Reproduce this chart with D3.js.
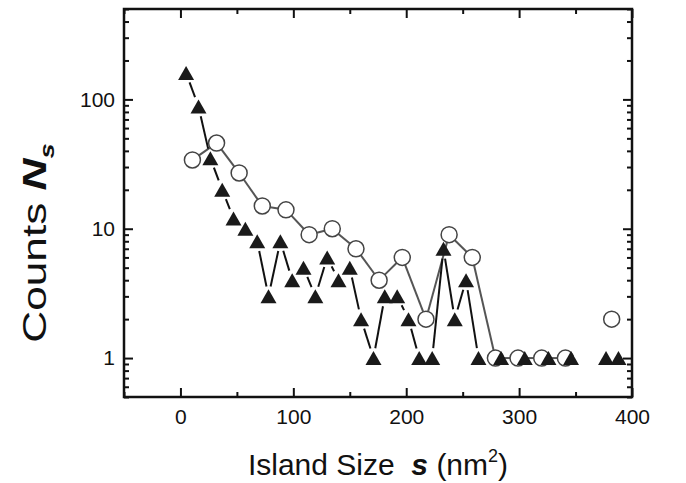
<!DOCTYPE html>
<html>
<head>
<meta charset="utf-8">
<script src="https://cdn.jsdelivr.net/npm/d3@7"></script>
<style>
    body { margin: 0; background: #fff; }
    text { font-family: "Liberation Sans", Arial, sans-serif; fill: #111; }
</style>
</head>
<body>
<div id="chart"></div>
<script>
// triangle series (filled, black line) - zero counts break the line
const triSize = [5, 16, 26.5, 37, 47, 57.5, 68, 78, 88.5, 99, 109, 119.5, 130, 140, 150, 160, 171, 181, 192, 202,
    211.5, 223, 233, 243, 253, 264, 274, 284, 295, 305, 315, 326, 336, 346, 356, 367, 377, 388];
const triCount = [160, 88, 35, 20, 12, 10, 8, 3, 8, 4, 5, 3, 6, 4, 5, 2, 1, 3, 3, 2,
    1, 1, 7, 2, 4, 1, 0, 1, 0, 1, 0, 1, 0, 1, 0, 0, 1, 1];

// circle series (open, grey line)
const circSize = [10.6, 32, 52, 72.5, 93.5, 114, 134.5, 155.5, 176, 196.5, 217.5, 238, 258.5, 279, 299, 320, 341, 362, 382];
const circCount = [34, 46, 27, 15, 14, 9, 10, 7, 4, 6, 2, 9, 6, 1, 1, 1, 1, 0, 2];

const xMajor = [0, 100, 200, 300, 400];
const xMinor = [-50, 50, 150, 250, 350];
const yMajor = [1, 10, 100];
const yMinor = [0.5, 0.6, 0.7, 0.8, 0.9, 2, 3, 4, 5, 6, 7, 8, 9, 20, 30, 40, 50, 60, 70, 80, 90, 200, 300, 400, 500];

const w = 686, h = 483;
const margin = { top: 9, right: 54, bottom: 86, left: 124 };

const svg = d3.select("#chart").append("svg")
    .attr("width", w)
    .attr("height", h);

// SCALES
const x = d3.scaleLinear().domain([-50, 400]).range([margin.left, w - margin.right]);
const y = d3.scaleLog().domain([0.5, 500]).range([h - margin.bottom, margin.top]);

const x0 = margin.left, x1 = w - margin.right, y0 = h - margin.bottom, y1 = margin.top;

// AXES (inward ticks, mirrored on top and right)
function addAxis(axisFn, pos, values, size, labels) {
    const g = svg.append("g")
        .attr("transform", pos)
        .call(axisFn.tickValues(values).tickSize(-size).tickPadding(labels ? 12 : 0)
            .tickFormat(labels ? d3.format("d") : ""));
    g.select(".domain").remove();
    g.selectAll("line").attr("stroke", "#111").attr("stroke-width", 2);
    g.selectAll("text").style("font-size", "21px").attr("fill", "#111");
    return g;
}

addAxis(d3.axisBottom(x), "translate(0," + y0 + ")", xMajor, 9, true);
addAxis(d3.axisBottom(x), "translate(0," + y0 + ")", xMinor, 5, false);
addAxis(d3.axisTop(x), "translate(0," + y1 + ")", xMajor, 9, false);
addAxis(d3.axisTop(x), "translate(0," + y1 + ")", xMinor, 5, false);
const yl = addAxis(d3.axisLeft(y), "translate(" + x0 + ",0)", yMajor, 9, true);
yl.selectAll("text").attr("x", -9);
addAxis(d3.axisLeft(y), "translate(" + x0 + ",0)", yMinor, 5, false);
addAxis(d3.axisRight(y), "translate(" + x1 + ",0)", yMajor, 9, false);
addAxis(d3.axisRight(y), "translate(" + x1 + ",0)", yMinor, 5, false);

svg.append("rect")
    .attr("x", x0).attr("y", y1)
    .attr("width", x1 - x0).attr("height", y0 - y1)
    .attr("fill", "none").attr("stroke", "#111").attr("stroke-width", 2.5);

// segments with gaps around the symbols, like Origin draws them
function segments(xs, ys, gap) {
    const out = [];
    for (let i = 0; i < xs.length - 1; i++) {
        if (ys[i] <= 0 || ys[i + 1] <= 0) continue;
        const ax = x(xs[i]), ay = y(ys[i]), bx = x(xs[i + 1]), by = y(ys[i + 1]);
        const len = Math.hypot(bx - ax, by - ay);
        if (len <= 2 * gap) continue;
        const ux = (bx - ax) / len, uy = (by - ay) / len;
        out.push([ax + ux * gap, ay + uy * gap, bx - ux * gap, by - uy * gap]);
    }
    return out;
}

const circData = circSize.map((s, i) => ({ s: s, n: circCount[i] })).filter(d => d.n > 0);
const triData = triSize.map((s, i) => ({ s: s, n: triCount[i] })).filter(d => d.n > 0);

svg.append("g").selectAll("line")
    .data(segments(circSize, circCount, 8))
    .enter().append("line")
    .attr("x1", d => d[0]).attr("y1", d => d[1])
    .attr("x2", d => d[2]).attr("y2", d => d[3])
    .attr("stroke", "#555").attr("stroke-width", 2);

svg.append("g").selectAll("line")
    .data(segments(triSize, triCount, 10))
    .enter().append("line")
    .attr("x1", d => d[0]).attr("y1", d => d[1])
    .attr("x2", d => d[2]).attr("y2", d => d[3])
    .attr("stroke", "#111").attr("stroke-width", 2);

svg.append("g").selectAll("circle")
    .data(circData)
    .enter().append("circle")
    .attr("cx", d => x(d.s)).attr("cy", d => y(d.n))
    .attr("r", 8)
    .attr("fill", "#fff").attr("stroke", "#444").attr("stroke-width", 1.5);

svg.append("g").selectAll("path")
    .data(triData)
    .enter().append("path")
    .attr("transform", d => "translate(" + x(d.s) + "," + y(d.n) + ")")
    .attr("d", "M0,-7L8,7L-8,7Z")
    .attr("fill", "#1a1a1a");

// AXES LABELS
const xt = svg.append("text")
    .attr("x", (x0 + x1) / 2).attr("y", 475)
    .style("text-anchor", "middle")
    .style("font-size", "30px");
xt.append("tspan").text("Island Size\u00a0\u00a0");
xt.append("tspan").text("s").style("font-weight", "bold").style("font-style", "italic");
xt.append("tspan").text(" (nm");
xt.append("tspan").text("2").style("font-size", "18px").attr("dy", "-13");
xt.append("tspan").text(")").attr("dy", "13");

// y title is stretched along its length in the original
const yt = svg.append("text")
    .attr("transform", "translate(46,243) rotate(-90) scale(1.3,1)")
    .style("text-anchor", "middle")
    .style("font-size", "34px");
yt.append("tspan").text("Counts ");
yt.append("tspan").text("N").style("font-weight", "bold").style("font-style", "italic");
yt.append("tspan").text("s").style("font-weight", "bold").style("font-style", "italic")
    .style("font-size", "21px").attr("dy", "8");
</script>
</body>
</html>
